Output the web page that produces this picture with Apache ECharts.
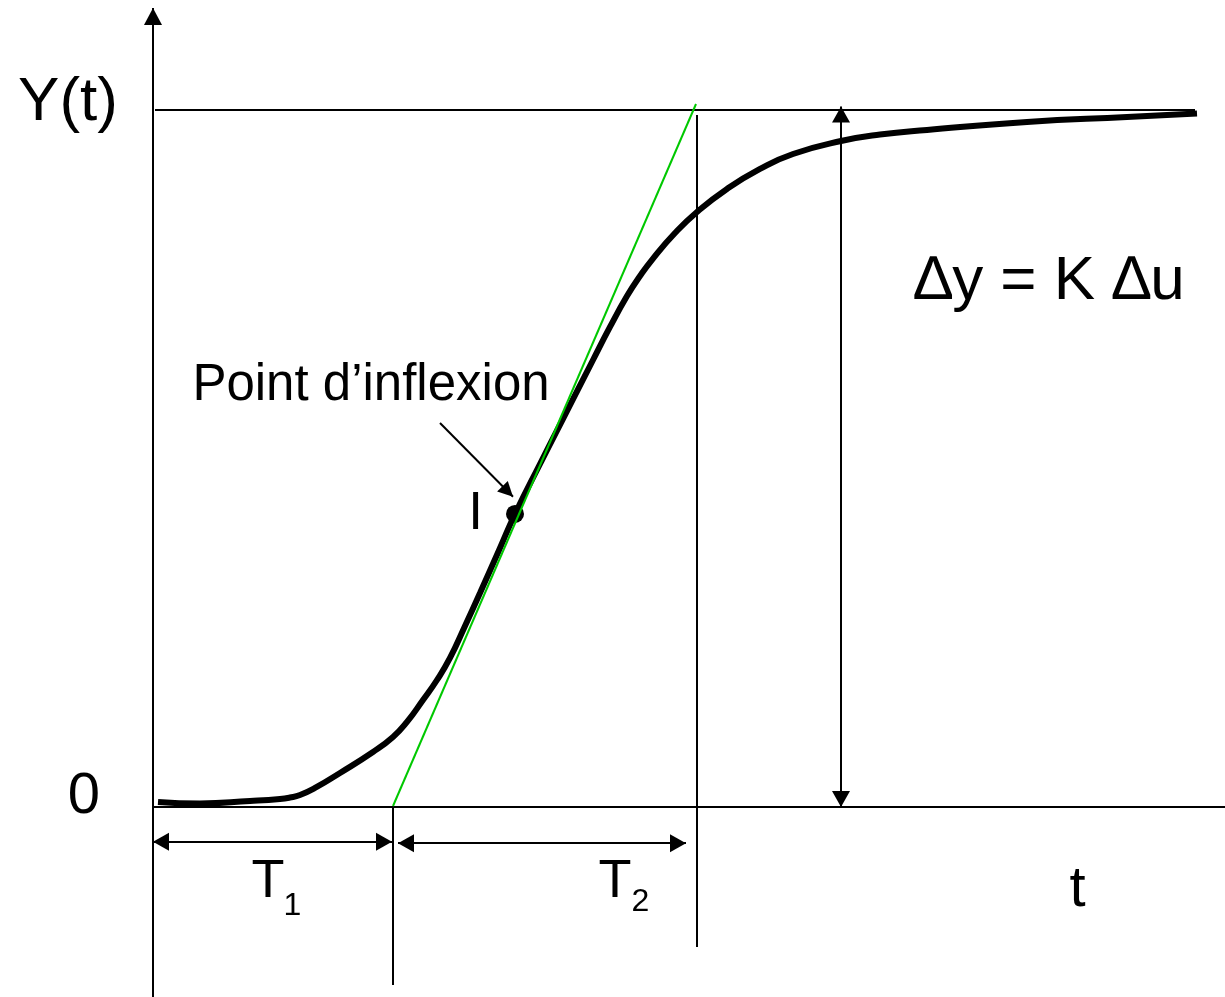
<!DOCTYPE html>
<html>
<head>
<meta charset="utf-8">
<script src="https://cdn.jsdelivr.net/npm/echarts@6/dist/echarts.min.js"></script>
<style>
  html, body { margin: 0; padding: 0; background: #fff; }
  #chart { width: 1225px; height: 997px; }
</style>
</head>
<body>
<div id="chart"></div>
<script>
// step response, t in units of 100px, y normalised to the final value
const curveT = [0.05, 0.47, 0.97, 1.27, 1.37, 1.47, 1.62, 1.87, 2.20, 2.40, 2.54, 2.70, 2.84, 2.97, 3.12, 3.27, 3.47, 3.62, 3.87, 4.10, 4.40, 4.57, 4.74, 4.87, 5.00, 5.22, 5.44, 5.74, 6.07, 6.40, 6.88, 7.27, 7.74, 8.74, 9.74, 10.44];
const curveY = [0.0072, 0.0050, 0.0086, 0.0115, 0.0136, 0.0172, 0.0273, 0.0488, 0.0789, 0.1004, 0.1220, 0.1535, 0.1822, 0.2138, 0.2597, 0.3070, 0.3716, 0.4204, 0.4921, 0.5567, 0.6413, 0.6887, 0.7331, 0.7618, 0.7869, 0.8235, 0.8537, 0.8867, 0.9154, 0.9369, 0.9555, 0.9648, 0.9713, 0.9828, 0.9900, 0.9950];

// inflection point
const inflexion = [3.62, 0.4204];

// tangent at the inflection point
const tangentStart = [2.40, 0.0014];
const tangentEnd = [5.43, 1.0086];

// construction lines [x1, y1, x2, y2]
const axisY = [0, -0.2726, 0, 1.1463];
const axisX = [0, 0, 10.72, 0];
const finalLine = [0.02, 1, 10.42, 1];
const t1Line = [2.40, 0, 2.40, -0.2554];
const t2Line = [5.44, 0.9928, 5.44, -0.2009];

// double arrows [x1, y1, x2, y2] (tip to tip)
const deltaArrow = [6.88, 0, 6.88, 1.005];
const t1Arrow = [0, -0.050, 2.39, -0.050];
const t2Arrow = [2.45, -0.052, 5.33, -0.052];

// pointer to I
const pointer = [2.87, 0.551, 3.60, 0.445];

// texts
const labelText = ['Y(t)', '0', 'T', '1', 'T', '2', 't', '\u2206y = K \u2206u', 'Point d\u2019inflexion', 'I'];
const labelT = [-0.85, -0.69, 1.15, 1.395, 4.62, 4.875, 9.245, 8.965, 2.18, 3.225];
const labelY = [1.0108, 0.0143, -0.1083, -0.142, -0.1083, -0.137, -0.1191, 0.7539, 0.6047, 0.4204];
const labelSize = [62, 58, 54, 32, 54, 32, 58, 62, 51, 53];

const FONT = '"Liberation Sans", Arial, sans-serif';

// one markLine item; arrow heads are pulled back so the tip sits on the end point
function seg(a, startSym, endSym, size, color) {
  let end = (sym) => ({
    symbol: sym,
    symbolSize: size || [18, 16],
    symbolOffset: [0, '50%']
  });
  return [
    Object.assign({coord: [a[0], a[1]], lineStyle: {color: color || '#000'}}, end(startSym)),
    Object.assign({coord: [a[2], a[3]]}, end(endSym))
  ];
}

let chart = echarts.init(document.getElementById('chart'), null, {renderer: 'canvas'});

// grid covers the whole page: x = 153px + 100px * t, y = 807px - 697px * Y
let option = {
  animation: false,
  backgroundColor: '#fff',
  grid: {left: 0, right: 0, top: 0, bottom: 0},
  xAxis: {type: 'value', min: -1.53, max: 10.72, show: false},
  yAxis: {type: 'value', min: -0.2726, max: 1.1578, show: false},
  series: [
    {
      name: 'construction',
      type: 'line',
      data: [],
      clip: false,
      silent: true,
      color: '#000',
      markLine: {
        silent: true,
        animation: false,
        label: {show: false},
        emphasis: {disabled: true},
        lineStyle: {type: 'solid', width: 2, color: '#000'},
        data: [
          seg(axisY, 'none', 'triangle', [18, 17]),
          seg(axisX, 'none', 'none'),
          seg(finalLine, 'none', 'none'),
          seg(t1Line, 'none', 'none'),
          seg(t2Line, 'none', 'none'),
          seg(deltaArrow, 'triangle', 'triangle'),
          seg(t1Arrow, 'triangle', 'triangle'),
          seg(t2Arrow, 'triangle', 'triangle'),
          seg(pointer, 'none', 'triangle', [15, 15]),
          seg(tangentStart.concat(tangentEnd), 'none', 'none', 0, '#00c800')
        ]
      }
    },
    {
      name: 'Y(t)',
      type: 'line',
      data: curveT.map((t, i) => [t, curveY[i]]),
      smooth: 0.5,
      symbol: 'none',
      clip: false,
      silent: true,
      lineStyle: {color: '#000', width: 6}
    },
    {
      name: 'I',
      type: 'scatter',
      data: [inflexion],
      symbolSize: 18,
      clip: false,
      silent: true,
      itemStyle: {color: '#000', opacity: 1}
    },
    {
      name: 'texts',
      type: 'scatter',
      clip: false,
      silent: true,
      symbolSize: 1,
      itemStyle: {color: 'rgba(0,0,0,0)', opacity: 1},
      data: labelText.map((txt, i) => ({
        value: [labelT[i], labelY[i]],
        label: {
          show: true,
          position: 'inside',
          formatter: txt,
          color: '#000',
          fontFamily: FONT,
          fontSize: labelSize[i],
          align: 'center',
          verticalAlign: 'middle'
        }
      }))
    }
  ]
};

chart.setOption(option);
</script>
</body>
</html>
